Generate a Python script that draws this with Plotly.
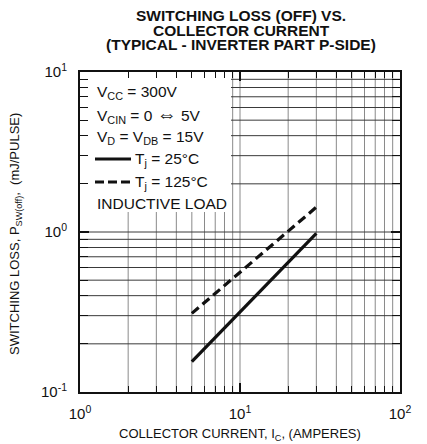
import plotly.graph_objects as go

# ---- data ----
collector_current = [5, 30]          # A
loss_tj25 = [0.155, 0.98]            # mJ/pulse, Tj = 25°C
loss_tj125 = [0.31, 1.43]            # mJ/pulse, Tj = 125°C

x_grid = [1, 2, 3, 4, 5, 6, 7, 8, 9, 10, 20, 30, 40, 50, 60, 70, 80, 90, 100]
x_labels = ["10<sup>0</sup>" if v == 1 else "10<sup>1</sup>" if v == 10 else "10<sup>2</sup>" if v == 100 else "" for v in x_grid]
y_grid = [0.1, 0.2, 0.3, 0.4, 0.5, 0.6, 0.7, 0.8, 0.9, 1, 2, 3, 4, 5, 6, 7, 8, 9, 10]
y_labels = ["10<sup>-1</sup>" if v == 0.1 else "10<sup>0</sup>" if v == 1 else "10<sup>1</sup>" if v == 10 else "" for v in y_grid]

title_lines = ["SWITCHING LOSS (OFF) VS.", "COLLECTOR CURRENT", "(TYPICAL - INVERTER PART P-SIDE)"]
condition_rows = ["V<sub>CC</sub> = 300V",
                  "V<sub>CIN</sub> = 0 <span style='font-size:20px'>⇔</span> 5V",
                  "V<sub>D</sub> = V<sub>DB</sub> = 15V",
                  "T<sub>j</sub> = 25°C", "T<sub>j</sub> = 125°C", "INDUCTIVE LOAD"]

FONT = "Liberation Sans, Arial, Helvetica, sans-serif"
INK = "#111111"
VGRID = "#8a8a8a"
HGRID = "#3a3a3a"

fig = go.Figure()
fig.add_trace(go.Scatter(x=collector_current, y=loss_tj25, mode="lines",
                         line=dict(color=INK, width=3.2), showlegend=False))
fig.add_trace(go.Scatter(x=collector_current, y=loss_tj125, mode="lines",
                         line=dict(color=INK, width=3.2, dash="9px,5px"), showlegend=False))
# empty trace holding overlay axes (thick decade ticks)
fig.add_trace(go.Scatter(x=[], y=[], xaxis="x2", yaxis="y2", showlegend=False))

# page is offset 8px by body margin; figure is sized/positioned to compensate
fig.update_layout(
    width=419, height=436,
    margin=dict(l=72, r=27, t=64, b=52),
    paper_bgcolor="white", plot_bgcolor="white",
    font=dict(family=FONT, color=INK),
    xaxis=dict(type="log", range=[0, 2], tickvals=x_grid, ticktext=x_labels,
               showgrid=False,
               showline=True, linecolor=INK, linewidth=2, mirror="ticks",
               ticks="inside", ticklen=6, tickcolor=INK, tickwidth=1,
               tickfont=dict(size=15, family=FONT, color=INK),
               ticklabelstandoff=7, zeroline=False),
    yaxis=dict(type="log", range=[-1, 1], tickvals=y_grid, ticktext=y_labels,
               showgrid=False,
               showline=True, linecolor=INK, linewidth=2, mirror="ticks",
               ticks="inside", ticklen=8, tickcolor=INK, tickwidth=1,
               tickfont=dict(size=15, family=FONT, color=INK),
               ticklabelstandoff=8, zeroline=False),
    xaxis2=dict(type="log", range=[0, 2], overlaying="x", tickvals=[1, 10, 100],
                showticklabels=False, showgrid=False, showline=False, zeroline=False,
                ticks="inside", ticklen=9, tickwidth=2.2, tickcolor=INK, mirror="ticks"),
    yaxis2=dict(type="log", range=[-1, 1], overlaying="y", tickvals=[0.1, 1, 10],
                showticklabels=False, showgrid=False, showline=False, zeroline=False,
                ticks="inside", ticklen=9, tickwidth=2.2, tickcolor=INK, mirror="ticks"),
)

def px(xpage):
    return (xpage - 80) / 320

def py(ypage):
    return (392 - ypage) / 320

# grid drawn as shapes (data units), leaving the conditions box (upper left) clear
box_right = 10 ** ((231 - 80) / 160)          # ~8.8 A
box_bottom = 10 ** ((392 - 212) / 160 - 1)    # ~1.33 mJ
x_lo, x_hi = x_grid[0], x_grid[-1]
y_lo, y_hi = y_grid[0], y_grid[-1]
for v in x_grid[1:-1]:
    top = box_bottom if v < box_right else y_hi
    fig.add_shape(type="line", xref="x", yref="y", x0=v, x1=v, y0=y_lo, y1=top,
                  line=dict(color=VGRID, width=1), layer="below")
for v in y_grid[1:-1]:
    left = box_right if v > box_bottom else x_lo
    fig.add_shape(type="line", xref="x", yref="y", x0=left, x1=x_hi, y0=v, y1=v,
                  line=dict(color=HGRID, width=1), layer="below")

# title (three tight lines)
for ypage, txt in zip([16, 30.5, 44.5], title_lines):
    fig.add_annotation(xref="paper", yref="paper", x=px(241), y=py(ypage), text="<b>" + txt + "</b>",
                       showarrow=False, xanchor="center", yanchor="middle",
                       font=dict(size=15.5, family=FONT, color=INK))

row_y = [92, 114, 137, 159, 182, 203]
row_x = [95, 95, 95, 133, 133, 95]
for ypage, xpage, txt in zip(row_y, row_x, condition_rows):
    fig.add_annotation(xref="paper", yref="paper", x=px(xpage), y=py(ypage), text=txt,
                       showarrow=False, xanchor="left", yanchor="middle",
                       font=dict(size=15.5, family=FONT, color=INK))

fig.add_shape(type="line", xref="paper", yref="paper", x0=px(95), x1=px(131), y0=py(159), y1=py(159),
              line=dict(color=INK, width=3.2), layer="above")
fig.add_shape(type="line", xref="paper", yref="paper", x0=px(95), x1=px(131), y0=py(182), y1=py(182),
              line=dict(color=INK, width=3.2, dash="9px,4px"), layer="above")

# axis titles
fig.add_annotation(xref="paper", yref="paper", x=px(240), y=py(434), text="COLLECTOR CURRENT, I<sub>C</sub>, (AMPERES)",
                   showarrow=False, xanchor="center", yanchor="middle",
                   font=dict(size=13, family=FONT, color=INK))
fig.add_annotation(xref="paper", yref="paper", x=px(15), y=py(234), text="SWITCHING LOSS, P<sub>SW(off)</sub>,  (mJ/PULSE)",
                   showarrow=False, xanchor="center", yanchor="middle", textangle=-90,
                   font=dict(size=13, family=FONT, color=INK))

fig.write_html("out.html")
